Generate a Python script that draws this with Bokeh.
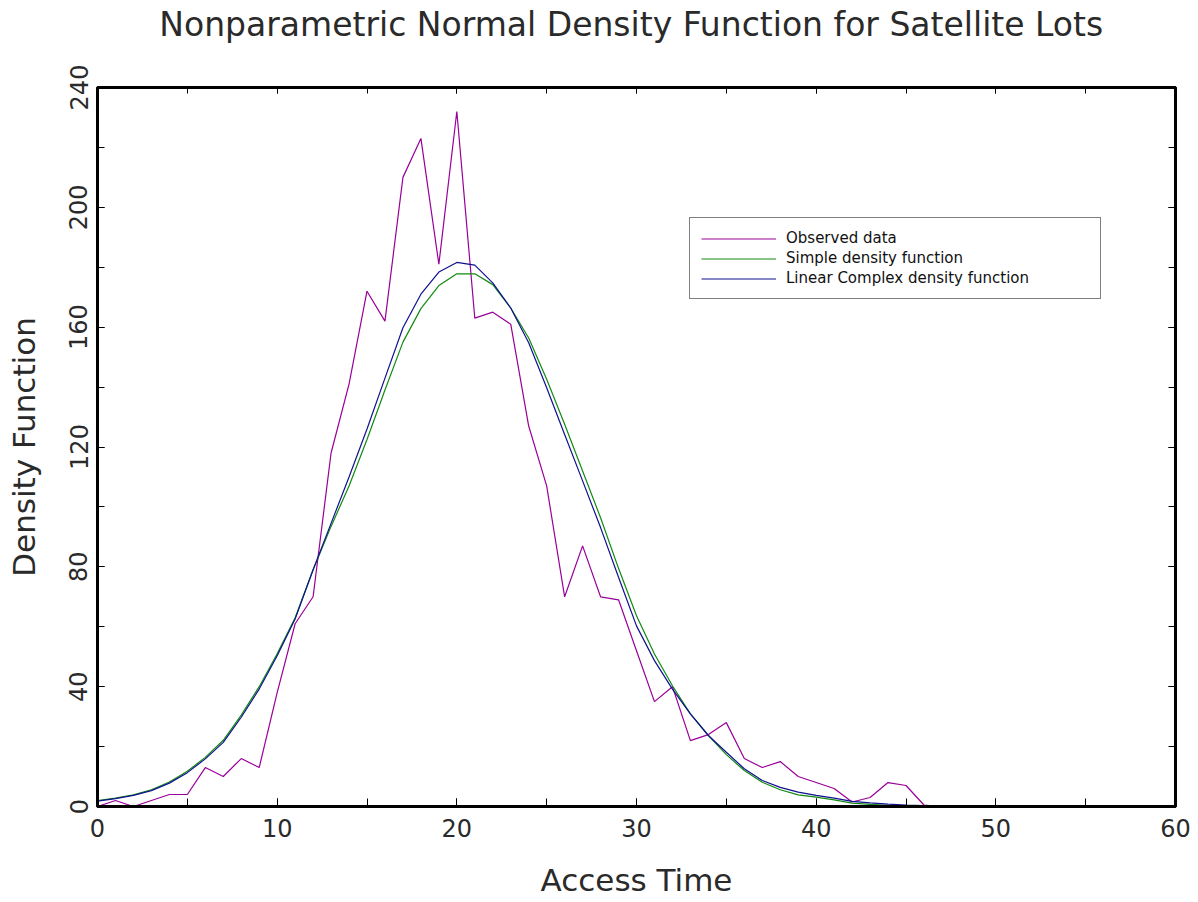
from bokeh.plotting import figure
from bokeh.models import (Range1d, SingleIntervalTicker, LinearAxis, Legend, LegendItem,
                          CustomJSTickFormatter)
from bokeh.embed import file_html
from bokeh.resources import INLINE

# ---- data ----
access_time = list(range(0, 61))
observed = [0, 2, 0, 2, 4, 4, 13, 10, 16, 13,
            38, 61, 70, 118, 141, 172, 162, 210, 223, 181,
            232, 163, 165, 161, 127, 107, 70, 87, 70, 69,
            52, 35, 40, 22, 24, 28, 16, 13, 15, 10,
            8, 6, 1.5, 3, 8, 7, 0.5] + [0] * 14
simple_density = [2.0, 2.8, 3.9, 5.6, 8.2, 11.8, 16.4, 22.1, 30.5, 40.0,
                  51.0, 63.0, 79.0, 93.5, 107.0, 122.5, 139.0, 155.0, 166.2, 173.9,
                  177.8, 177.8, 174.2, 166.4, 156.4, 142.6, 127.6, 112.0, 96.4, 79.5,
                  63.7, 50.9, 40.3, 30.9, 23.7, 17.3, 12.0, 8.1, 5.6, 3.9,
                  3.1, 2.2, 1.1, 0.7, 0.4, 0.3, 0.2, 0.1] + [0] * 13
linear_complex_density = [1.8, 2.6, 3.7, 5.3, 7.8, 11.3, 15.9, 21.4, 29.8, 39.2,
                          50.3, 62.6, 79.0, 94.5, 110.0, 126.0, 143.0, 159.8, 171.0, 178.4,
                          181.6, 180.7, 174.8, 166.4, 154.8, 139.8, 124.2, 108.7, 93.1, 76.5,
                          60.3, 48.7, 39.2, 30.9, 23.7, 18.1, 12.6, 8.7, 6.4, 4.8,
                          3.7, 2.8, 1.7, 1.2, 0.8, 0.5, 0.3, 0.2, 0.1] + [0] * 12
series_names = ["Observed data", "Simple density function", "Linear Complex density function"]
title_text = "Nonparametric Normal Density Function for Satellite  Lots"

FONT = "DejaVu Sans"

p = figure(width=1198, height=902, output_backend="svg", toolbar_location=None,
           x_range=Range1d(0, 60), y_range=Range1d(0, 240),
           min_border_left=97, min_border_right=23, min_border_top=87, min_border_bottom=96,
           x_axis_type=None, y_axis_type=None)
p.grid.visible = False
p.outline_line_color = "black"
p.outline_line_width = 3
p.background_fill_color = "white"
p.border_fill_color = "white"
p.title.text = ""
p.title.standoff = 0

def style_axis(ax, labels=True, tick_len=8):
    ax.axis_line_color = "black"
    ax.axis_line_width = 3
    ax.major_tick_in = tick_len
    ax.major_tick_out = 0
    ax.minor_tick_in = tick_len
    ax.minor_tick_out = 0
    ax.major_tick_line_color = "black"
    ax.minor_tick_line_color = "black"
    ax.major_tick_line_width = 1
    ax.minor_tick_line_width = 1
    if labels:
        ax.major_label_text_font = FONT
        ax.major_label_text_font_size = "24px"
        ax.major_label_text_color = "#2a2a2a"
        ax.axis_label_text_font = FONT
        ax.axis_label_text_font_size = "31px"
        ax.axis_label_text_font_style = "normal"
        ax.axis_label_text_color = "#2a2a2a"
    else:
        ax.formatter = CustomJSTickFormatter(code="return ''")
        ax.major_label_text_font_size = "1px"
        ax.major_label_standoff = 0

xb = LinearAxis(ticker=SingleIntervalTicker(interval=10, num_minor_ticks=2), axis_label="Access Time")
style_axis(xb, True, 8)
xb.major_label_standoff = 12
xb.axis_label_standoff = 22
p.add_layout(xb, "below")

yl = LinearAxis(ticker=SingleIntervalTicker(interval=40, num_minor_ticks=2), axis_label="Density Function")
style_axis(yl, True, 7)
yl.major_label_orientation = "vertical"
yl.major_label_standoff = 10
yl.axis_label_standoff = 25
p.add_layout(yl, "left")

# top axis carries the chart title as its label
xt = LinearAxis(ticker=SingleIntervalTicker(interval=10, num_minor_ticks=2), axis_label=title_text)
style_axis(xt, False, 6)
xt.axis_label_text_font = FONT
xt.axis_label_text_font_size = "33px"
xt.axis_label_text_font_style = "normal"
xt.axis_label_text_color = "#2a2a2a"
xt.axis_label_standoff = 44
p.add_layout(xt, "above")

yr = LinearAxis(ticker=SingleIntervalTicker(interval=40, num_minor_ticks=2))
style_axis(yr, False, 7)
p.add_layout(yr, "right")

r1 = p.line(access_time, observed, line_color="#990099", line_width=1.2)
r2 = p.line(access_time, simple_density, line_color="#108a10", line_width=1.2)
r3 = p.line(access_time, linear_complex_density, line_color="#101090", line_width=1.2)

legend = Legend(items=[LegendItem(label=series_names[0], renderers=[r1]),
                       LegendItem(label=series_names[1], renderers=[r2]),
                       LegendItem(label=series_names[2], renderers=[r3])],
                location=(592, 507))
legend.label_text_font = FONT
legend.label_text_font_size = "15px"
legend.label_text_color = "#111111"
legend.glyph_width = 75
legend.glyph_height = 17
legend.label_height = 17
legend.label_width = 303
legend.label_standoff = 10
legend.spacing = 2
legend.padding = 11
legend.margin = 0
legend.border_line_color = "black"
legend.border_line_width = 1
legend.background_fill_alpha = 1
p.add_layout(legend, "center")

open("out.html", "w").write(file_html(p, INLINE))
